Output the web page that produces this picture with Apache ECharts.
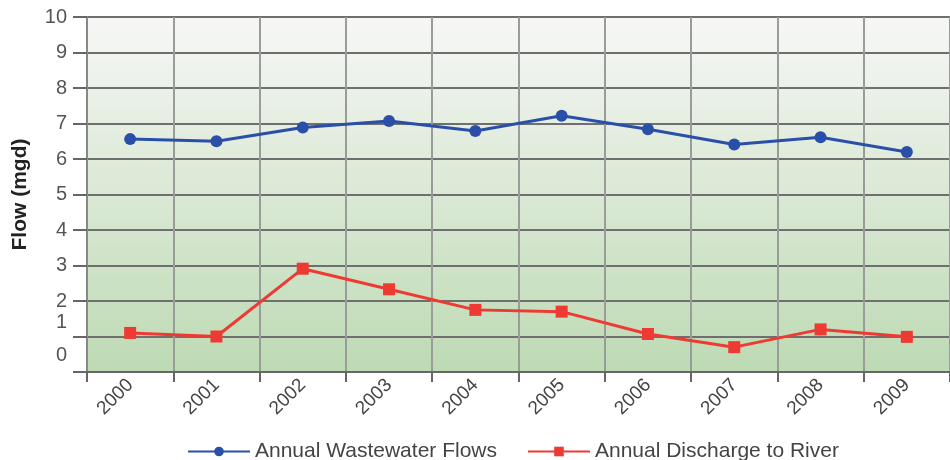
<!DOCTYPE html>
<html>
<head>
<meta charset="utf-8">
<script src="https://cdn.jsdelivr.net/npm/echarts@6/dist/echarts.min.js"></script>
<style>
html,body{margin:0;padding:0;background:#fff;}
#chart{width:950px;height:460px;}
</style>
</head>
<body>
<div id="chart"></div>
<script>
var years = ['2000','2001','2002','2003','2004','2005','2006','2007','2008','2009'];
var wastewaterFlows = [6.56, 6.5, 6.89, 7.07, 6.79, 7.22, 6.84, 6.41, 6.61, 6.2];
var dischargeToRiver = [1.1, 1.0, 2.91, 2.33, 1.75, 1.7, 1.07, 0.7, 1.2, 0.99];
var seriesNames = ['Annual Wastewater Flows', 'Annual Discharge to River'];
var yAxisTitle = 'Flow (mgd)';

var chart = echarts.init(document.getElementById('chart'));
chart.setOption({
  animation: false,
  textStyle: { fontFamily: 'Liberation Sans, Arial, sans-serif' },
  grid: {
    left: 87, right: -7, top: 17, bottom: 88,
    show: true, borderWidth: 0,
    backgroundColor: new echarts.graphic.LinearGradient(0, 0, 0, 1, [
      { offset: 0, color: '#f7f7f6' },
      { offset: 1, color: '#bddab3' }
    ])
  },
  legend: {
    left: 182, top: 436,
    itemWidth: 62, itemHeight: 12, itemGap: 30,
    textStyle: { fontSize: 21, color: '#444' },
    data: seriesNames
  },
  xAxis: {
    type: 'category',
    data: years,
    boundaryGap: true,
    axisLine: { lineStyle: { color: '#666', width: 2 } },
    axisTick: { show: true, length: 10, lineStyle: { color: '#666', width: 2 } },
    axisLabel: { rotate: 45, fontSize: 19, color: '#444', margin: 10 },
    splitLine: { show: true, lineStyle: { color: '#9a9c9a', width: 2 } }
  },
  yAxis: {
    type: 'value',
    min: 0, max: 10, interval: 1,
    name: yAxisTitle,
    nameLocation: 'middle',
    nameGap: 56,
    nameTextStyle: { fontSize: 21, fontWeight: 'bold', color: '#222' },
    axisLine: { show: true, lineStyle: { color: '#888', width: 2 } },
    axisTick: { show: true, length: 14, lineStyle: { color: '#666', width: 2 } },
    axisLabel: {
      fontSize: 20, color: '#555', margin: 20,
      formatter: function (v) {
        if (v === 0) return '{z|0}';
        if (v === 1) return '{o|1}';
        return String(v);
      },
      rich: {
        z: { fontSize: 20, color: '#555', padding: [0, 0, 34, 0] },
        o: { fontSize: 20, color: '#555', padding: [0, 0, 28, 0] }
      }
    },
    splitLine: { show: true, lineStyle: { color: '#6e6f6e', width: 2 } }
  },
  series: [
    {
      name: seriesNames[0],
      type: 'line',
      data: wastewaterFlows,
      symbol: 'circle',
      symbolSize: 12,
      itemStyle: { color: '#2a4fa8' },
      lineStyle: { color: '#2a4fa8', width: 3 }
    },
    {
      name: seriesNames[1],
      type: 'line',
      data: dischargeToRiver,
      symbol: 'rect',
      symbolSize: 12,
      itemStyle: { color: '#ee3a32' },
      lineStyle: { color: '#ee3a32', width: 3 }
    }
  ]
});
</script>
</body>
</html>
